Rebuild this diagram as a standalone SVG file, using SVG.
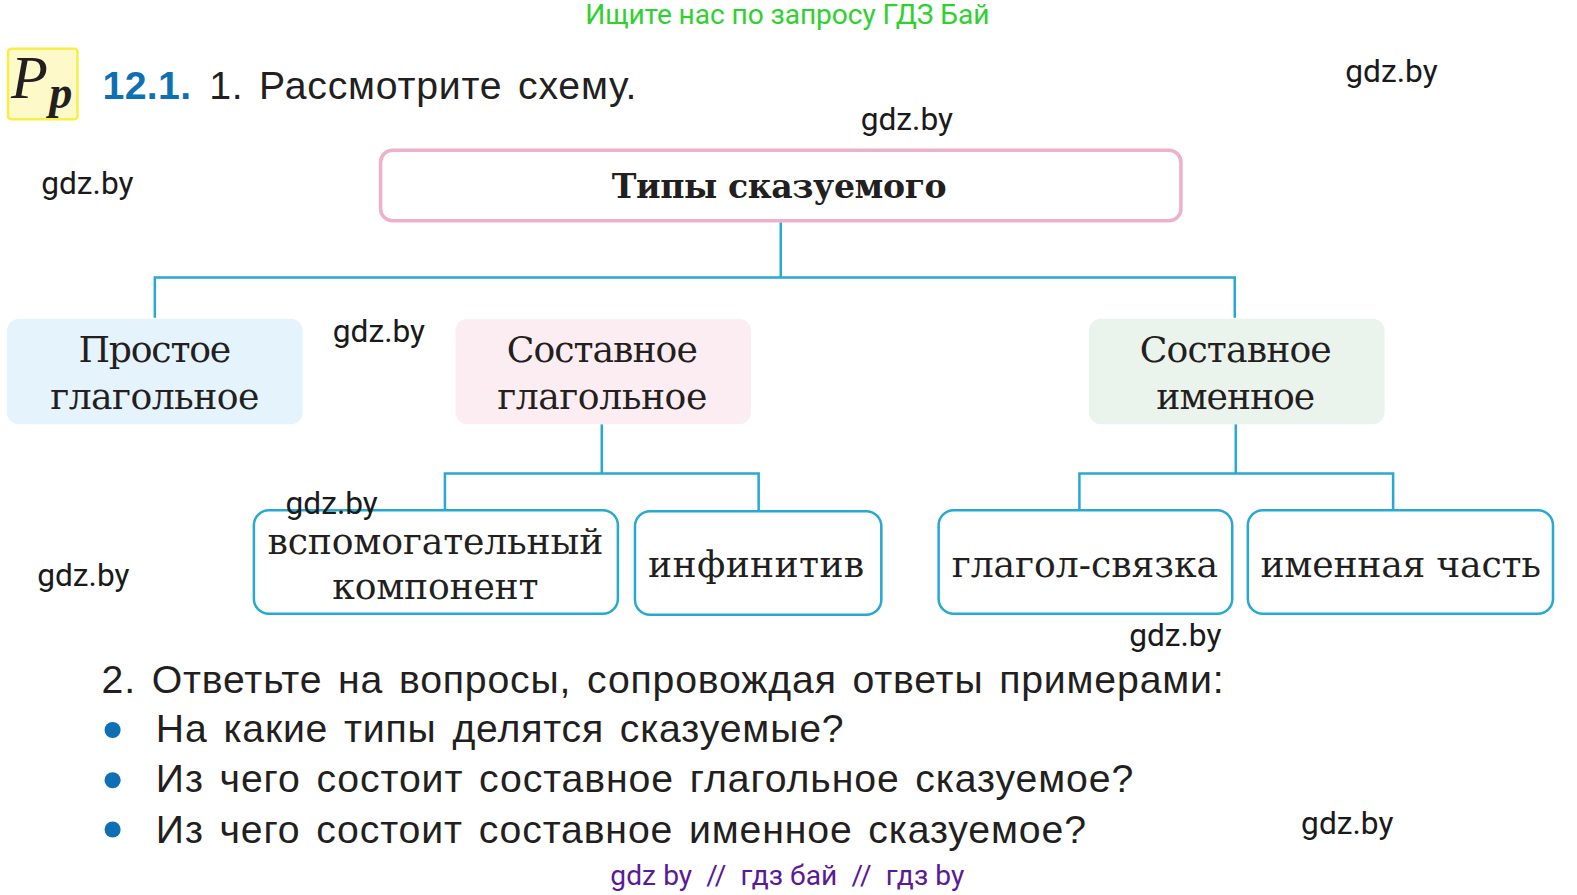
<svg xmlns="http://www.w3.org/2000/svg" width="1577" height="895" viewBox="0 0 1577 895">
<style>
text{font-family:"Liberation Sans",Arial,sans-serif;fill:#231f20}
.wm{font-family:Roboto,"Liberation Sans",sans-serif;font-size:31.500px;fill:#1a1a1a}
.s{font-family:"DejaVu Serif","Liberation Serif",serif;text-anchor:middle;font-size:36px}
.b{font-size:39px;word-spacing:4px}
.c{fill:none;stroke:#27a9d1;stroke-width:2.5}
.box{fill:#fff;stroke:#27a9d1;stroke-width:2.5}
</style>
<rect width="1577" height="895" fill="#fff"/>
<g transform="scale(1.0055)">
<g id="connectors">
<path class="c" d="M776.500 221V276M154 316V276H1228V316"/>
<path class="c" d="M598.500 422V471M442.500 507V471H754.500V508"/>
<path class="c" d="M1229 422V471M1073.500 507V471H1385.500V507"/>
</g>
<g id="header">
<rect x="8" y="48.500" width="69" height="70" rx="3" fill="#fdf9c9" stroke="#f7ee4a" stroke-width="2.500"/>
<text x="11" y="97" style="font-family:'Liberation Serif',serif;font-style:italic;font-size:60px">P</text>
<text x="49" y="107" style="font-family:'Liberation Serif',serif;font-style:italic;font-weight:bold;font-size:46px">p</text>
<text x="102" y="98" font-size="39" font-weight="bold" style="fill:#0f6fb5" textLength="88">12.1.</text>
<text class="b" x="208" y="98" textLength="425">1. Рассмотрите схему.</text>
</g>
<g id="root">
<rect x="378.500" y="149.500" width="796" height="70" rx="12" fill="#fff" stroke="#efb0cb" stroke-width="3.500"/>
<text x="775" y="197" style="font-family:'DejaVu Serif',serif;font-weight:bold;font-size:33px;text-anchor:middle" textLength="333">Типы сказуемого</text>
</g>
<g id="simple">
<rect x="7" y="317" width="294" height="105" rx="12" fill="#e4f3fc"/>
<text class="s" x="154" y="360" textLength="152">Простое</text>
<text class="s" x="154" y="407" textLength="208">глагольное</text>
</g>
<g id="compound-verb">
<rect x="453" y="317" width="294" height="105" rx="12" fill="#fcedf2"/>
<text class="s" x="599" y="360" textLength="190">Составное</text>
<text class="s" x="599" y="407" textLength="209">глагольное</text>
</g>
<g id="compound-noun">
<rect x="1083" y="317" width="294" height="105" rx="12" fill="#ebf3ed"/>
<text class="s" x="1229" y="360" textLength="191">Составное</text>
<text class="s" x="1229" y="407" textLength="158">именное</text>
</g>
<g id="aux">
<rect class="box" x="252.500" y="507.500" width="362" height="103" rx="15"/>
<text class="s" x="433" y="551" textLength="334">вспомогательный</text>
<text class="s" x="433" y="596" textLength="205">компонент</text>
</g>
<g id="inf">
<rect class="box" x="631.500" y="508.500" width="245" height="103" rx="15"/>
<text class="s" x="752" y="574" textLength="215">инфинитив</text>
</g>
<g id="link">
<rect class="box" x="933.500" y="507.500" width="292" height="103" rx="15"/>
<text class="s" x="1079" y="574" textLength="265">глагол-связка</text>
</g>
<g id="nominal">
<rect class="box" x="1241" y="507.500" width="303.500" height="103" rx="15"/>
<text class="s" x="1393" y="574" textLength="279">именная часть</text>
</g>
<g id="questions">
<text class="b" x="101" y="689" textLength="1116">2. Ответьте на вопросы, сопровождая ответы примерами:</text>
<circle cx="112" cy="726" r="8" fill="#0f6fb5"/>
<text class="b" x="155" y="738" textLength="684">На какие типы делятся сказуемые?</text>
<circle cx="112" cy="776" r="8" fill="#0f6fb5"/>
<text class="b" x="155" y="788" textLength="972">Из чего состоит составное глагольное сказуемое?</text>
<circle cx="112" cy="825" r="8" fill="#0f6fb5"/>
<text class="b" x="155" y="838" textLength="925">Из чего состоит составное именное сказуемое?</text>
</g>
<g id="watermarks">
<text x="582" y="24" style="font-family:Roboto,sans-serif;font-size:28px;fill:#2fd12f" textLength="402">Ищите нас по запросу ГДЗ Бай</text>
<text class="wm" x="1338" y="82">gdz.by</text>
<text class="wm" x="856" y="129">gdz.by</text>
<text class="wm" x="41" y="193">gdz.by</text>
<text class="wm" x="331" y="340">gdz.by</text>
<text class="wm" x="284" y="511">gdz.by</text>
<text class="wm" x="37" y="583">gdz.by</text>
<text class="wm" x="1123" y="642">gdz.by</text>
<text class="wm" x="1294" y="829">gdz.by</text>
<text x="607" y="880" style="font-family:Roboto,sans-serif;font-size:28px;fill:#5b1a95" xml:space="preserve" textLength="352">gdz by  //  гдз бай  //  гдз by</text>
</g>
</g>
</svg>
